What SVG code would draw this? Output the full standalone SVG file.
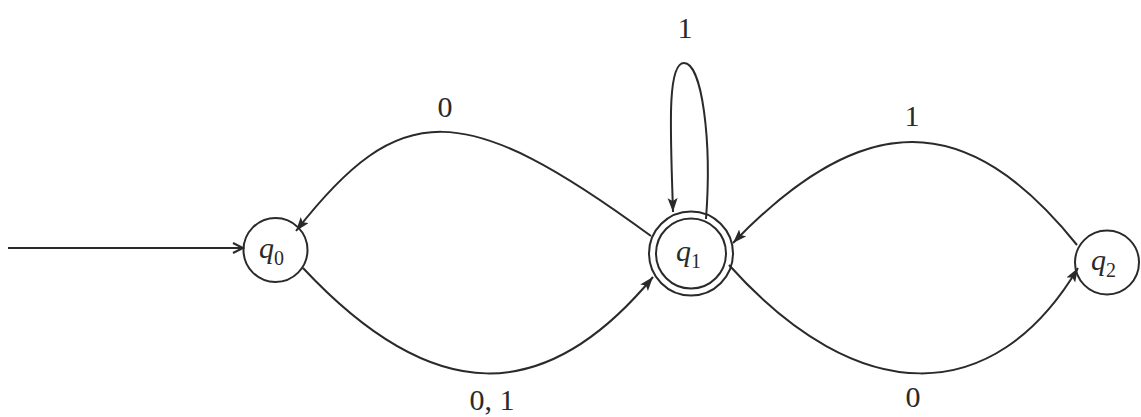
<svg xmlns="http://www.w3.org/2000/svg" width="1141" height="417" viewBox="0 0 1141 417">
<defs>
<style>
.st{fill:none;stroke:#2a2a2a;stroke-width:2}
.q{font-family:"Liberation Serif",serif;font-style:italic;font-size:30px;fill:#2a2a2a}
.sub{font-family:"Liberation Serif",serif;font-size:20px;fill:#2a2a2a;font-style:normal}
.lbl{font-family:"Liberation Serif",serif;font-size:30px;fill:#2a2a2a;text-anchor:middle}
</style>
<marker id="ah" markerUnits="userSpaceOnUse" markerWidth="16" markerHeight="12" refX="14" refY="5" orient="auto">
<path d="M0,0 L14,5 L0,10 L3,5 z" fill="#2a2a2a"/>
</marker>
<marker id="open" markerUnits="userSpaceOnUse" markerWidth="14" markerHeight="14" refX="11" refY="6" orient="auto">
<path d="M1,1 L11,6 L1,11" fill="none" stroke="#2a2a2a" stroke-width="2"/>
</marker>
</defs>
<rect width="1141" height="417" fill="#ffffff"/>
<g id="connectors">
<path class="st" d="M8,248 L243,248" marker-end="url(#open)"/>
<path class="st" d="M651,236 C463,98 400,98 296,231" marker-end="url(#ah)"/>
<path class="st" d="M303,268 C433,407 545,407 653,277" marker-end="url(#ah)"/>
<path class="st" d="M1077,245 C967,108 863,108 733,243" marker-end="url(#ah)"/>
<path class="st" d="M729,265 C858,409 994,409 1078,268" marker-end="url(#ah)"/>
<path class="st" d="M706,219 C712,140 702,63 684,63 C666,63 671,140 673,212" marker-end="url(#ah)"/>
</g>
<g id="labels">
<text class="lbl" x="445" y="117">0</text>
<text class="lbl" x="492" y="410">0, 1</text>
<text class="lbl" x="912" y="126">1</text>
<text class="lbl" x="913" y="407">0</text>
<text class="lbl" x="685" y="38">1</text>
</g>
<g id="q0">
<circle class="st" cx="275.5" cy="250" r="32"/>
<text class="q" x="259" y="258">q<tspan class="sub" dy="7">0</tspan></text>
</g>
<g id="q1">
<circle class="st" cx="691" cy="253.5" r="42"/>
<circle class="st" cx="691" cy="253.5" r="35"/>
<text class="q" x="676" y="261">q<tspan class="sub" dy="7">1</tspan></text>
</g>
<g id="q2">
<circle class="st" cx="1107" cy="262.5" r="32"/>
<text class="q" x="1091" y="270">q<tspan class="sub" dy="7">2</tspan></text>
</g>
</svg>
